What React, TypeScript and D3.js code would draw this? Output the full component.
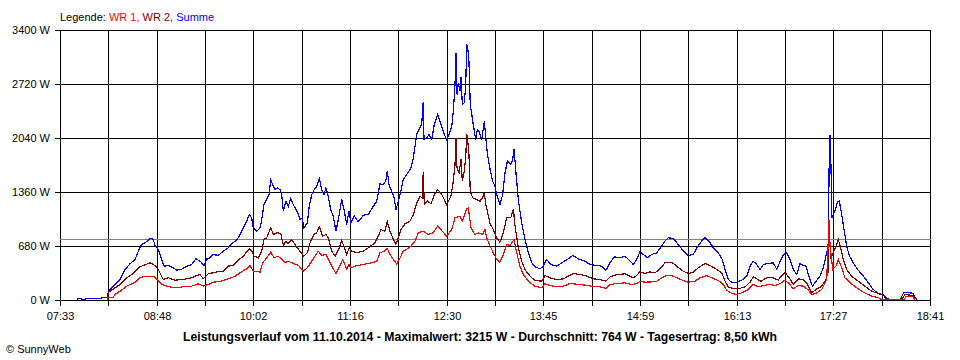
import React from "react";
import * as d3 from "d3";

// time in minutes after 07:33, value in W
const xTickLabels = ["07:33", "08:48", "10:02", "11:16", "12:30", "13:45", "14:59", "16:13", "17:27", "18:41"];
const totalMinutes = 668;
const yTicks = [0, 680, 1360, 2040, 2720, 3400];
const yMax = 3400;
const average = 764;

const legendItems = [
  { text: "WR 1,", color: "#ff0000" },
  { text: " WR 2,", color: "#800000" },
  { text: " Summe", color: "#0000ff" },
];

const titleText =
  "Leistungsverlauf vom 11.10.2014 - Maximalwert: 3215 W - Durchschnitt: 764 W - Tagesertrag: 8,50 kWh";
const copyrightText = "© SunnyWeb";

const summe: [number, number][] = [
  [13.1,0],[13.8,10],[16.1,10],[17,0],[21.5,12],[30.7,12],[33.0,28],[36.1,30],[37.1,84],[38.4,126],[42.2,189],[46.1,252],[49.9,378],[53.7,449],[57.6,504],[60.1,608],[62.7,693],[66.0,722],[67.8,747],[69.6,772],[71.6,760],[72.9,680],[75.5,630],[78.1,504],[79.9,420],[83.2,428],[87.0,399],[89.6,369],[93.4,380],[97.3,420],[101.1,440],[104.4,512],[107.5,483],[110.6,432],[112.6,510],[113.9,512],[117.7,567],[121.5,555],[125.4,608],[129.2,651],[131.8,705],[135.7,747],[138.2,819],[140.7,902],[143.4,986],[145.3,1070],[147.2,1028],[148.4,902],[151.0,860],[153.6,902],[154.9,1007],[156.6,1196],[158.7,1259],[160.5,1322],[161.8,1502],[163.3,1448],[165.1,1385],[166.8,1405],[168.9,1385],[170.2,1322],[171.5,1112],[173.5,1238],[175.3,1175],[177.1,1268],[179.1,1196],[181.2,1133],[183.0,1070],[184.3,1007],[186.0,1028],[187.3,902],[189.9,965],[191.4,1175],[193.3,1322],[195.0,1376],[197.1,1427],[199.1,1520],[200.9,1385],[202.7,1322],[204.2,1405],[206.0,1301],[207.8,1133],[209.8,1049],[211.9,860],[213.7,1007],[216.3,1259],[218.1,1133],[220.1,944],[221.9,1112],[223.4,965],[226.0,1049],[229.0,978],[232.9,1062],[236.7,1070],[240.6,1175],[243.2,1238],[245.7,1457],[248.2,1448],[250.1,1490],[251.3,1616],[252.8,1427],[254.7,1364],[256.5,1280],[258.0,1133],[259.8,1238],[261.1,1322],[263.6,1511],[266.2,1574],[269.5,1658],[271.3,1784],[273.9,2078],[275.6,2141],[277.7,2204],[278.9,2489],[279.5,2015],[281.6,2036],[283.3,2078],[285.4,2015],[287.4,2204],[290.0,2330],[292.5,2204],[295.1,2078],[296.9,2015],[298.7,2078],[300.8,2183],[302.0,2371],[303.3,2708],[304.1,3106],[304.8,2582],[305.8,2729],[307.1,2624],[307.9,2799],[308.9,2456],[310.4,2477],[311.5,2687],[312.3,3215],[313.0,3180],[314.0,3001],[315.0,2456],[317.3,2204],[319.2,2015],[320.4,2141],[321.7,2120],[323.8,2015],[325.8,2245],[326.9,2036],[328.4,1805],[330.2,1640],[332.2,1490],[334.0,1427],[335.3,1322],[337.8,1196],[339.9,1322],[341.7,1595],[343.5,1742],[346.1,1700],[347.6,1763],[348.6,1898],[350.1,1595],[351.9,1259],[354.5,965],[357.0,756],[359.6,588],[362.2,462],[364.7,412],[368.6,386],[371.1,420],[373.7,504],[376.8,441],[381.4,420],[385.2,462],[390.3,512],[393.7,554],[398.0,512],[403.1,483],[406.9,441],[412.1,428],[415.9,420],[419.2,369],[422.3,462],[425.4,537],[430.0,525],[433.8,546],[437.7,483],[440.2,441],[442.8,504],[445.3,600],[447.9,567],[451.2,525],[454.3,567],[458.2,588],[462.0,672],[464.5,735],[467.1,777],[470.9,770],[474.7,693],[478.6,608],[482.4,554],[486.3,567],[488.9,651],[492.7,735],[495.2,777],[498.3,735],[501.6,651],[505.5,588],[508.5,504],[510.6,378],[513.1,252],[515.7,218],[518.3,210],[521.3,231],[524.6,252],[527.3,294],[529.8,420],[532.3,483],[534.9,441],[537.5,378],[540.0,441],[543.8,453],[547.7,462],[550.3,378],[552.8,475],[555.4,567],[557.9,588],[560.5,504],[563.0,378],[565.7,315],[568.2,453],[570.7,428],[572.8,420],[575.3,273],[577.7,168],[580.5,231],[583.5,294],[586.1,399],[588.1,546],[589.9,672],[590.8,2065],[591.5,2065],[591.7,1900],[592.7,1028],[594.3,1091],[595.8,1154],[596.8,1225],[598.4,1238],[600.2,1070],[602.0,881],[604.0,672],[606.0,554],[609.1,462],[612.9,369],[616.8,294],[620.6,210],[624.4,126],[628.3,76],[632.1,63],[634.2,9],[637.3,0],[645.5,0],[647.0,63],[648.1,92],[654.7,80],[656.5,30],[657.8,0],
];

const wr2: [number, number][] = [
  [36.1,0],[37.1,84],[38.4,105],[42.2,147],[46.1,189],[51.2,273],[56.3,327],[61.4,412],[66.0,441],[69.1,462],[72.9,428],[75.5,378],[79.3,252],[83.2,273],[88.3,243],[94.7,252],[101.1,273],[105.0,302],[107.5,315],[110.0,260],[113.9,327],[117.7,336],[121.5,350],[125.4,357],[129.2,420],[133.1,430],[136.9,495],[140.7,546],[145.3,638],[147.2,610],[149.0,546],[152.3,525],[154.9,609],[156.6,756],[158.7,777],[161.8,902],[163.8,819],[166.8,840],[169.5,830],[171.5,680],[173.5,735],[175.3,705],[177.9,756],[180.4,693],[184.3,608],[187.3,546],[189.9,588],[192.0,714],[195.0,819],[197.1,840],[199.1,915],[201.7,798],[204.2,819],[206.0,777],[208.6,608],[211.2,546],[214.5,651],[216.3,747],[220.1,567],[222.1,650],[224.0,609],[227.8,588],[232.9,609],[236.7,651],[241.9,714],[244.4,798],[246.5,881],[249.5,860],[251.3,978],[253.4,860],[255.5,777],[257.8,693],[259.8,777],[261.8,881],[264.9,953],[268.7,986],[271.3,1070],[273.9,1217],[276.4,1301],[278.2,1280],[278.9,1607],[279.7,1196],[282.3,1238],[284.9,1205],[287.4,1322],[290.0,1385],[293.1,1322],[296.9,1196],[300.2,1301],[302.0,1490],[303.3,1700],[304.1,2036],[304.8,1658],[306.4,1595],[307.9,1763],[308.9,1490],[310.4,1616],[311.5,1784],[312.3,2078],[313.0,2015],[314.0,1826],[315.0,1364],[316.9,1280],[319.9,1259],[322.5,1238],[324.3,1280],[325.8,1343],[326.9,1196],[328.4,1091],[330.2,957],[332.7,881],[335.3,777],[337.8,722],[340.4,840],[343.0,1028],[346.1,1028],[348.1,1142],[349.4,924],[351.9,651],[354.5,483],[357.0,378],[360.9,294],[364.7,239],[369.9,231],[372.4,302],[376.2,273],[381.4,252],[386.5,260],[390.3,294],[394.1,327],[399.3,315],[404.4,294],[409.5,260],[414.6,252],[419.2,231],[422.3,285],[427.4,315],[433.8,323],[437.7,294],[440.2,273],[442.8,302],[445.3,350],[449.2,327],[453.0,348],[456.9,336],[460.7,386],[464.5,462],[469.7,470],[473.5,420],[478.6,357],[482.4,327],[486.3,344],[490.1,399],[495.2,453],[499.1,428],[504.2,378],[508.1,336],[510.6,231],[513.1,160],[517.0,134],[520.8,134],[526.0,160],[529.8,218],[532.3,285],[535.7,252],[538.2,231],[542.6,273],[547.7,273],[551.5,243],[553.5,290],[556.7,340],[560.5,260],[563.0,189],[566.9,260],[570.7,252],[573.3,210],[577.2,84],[581.1,134],[584.9,168],[588.1,252],[589.9,357],[590.5,819],[591.2,700],[591.7,525],[593.8,588],[595.8,672],[597.6,756],[599.4,651],[601.4,504],[604.0,378],[607.9,294],[612.9,231],[618.1,168],[623.2,105],[628.3,76],[632.1,50],[636.0,8],[637.3,0],[646.5,0],[648.8,63],[654.7,50],[656.5,0],
];

const wr1: [number, number][] = [
  [36.1,0],[37.1,29],[40.9,29],[42.2,63],[46.1,105],[51.2,168],[57.6,218],[61.4,273],[66.0,294],[71.6,294],[74.2,260],[78.1,189],[81.9,168],[88.3,147],[94.7,160],[101.1,168],[106.2,198],[110.0,168],[115.2,198],[117.7,218],[122.9,226],[129.2,260],[134.4,294],[138.2,336],[143.4,386],[145.9,428],[148.4,357],[153.6,346],[155.6,462],[158.7,525],[161.8,596],[164.3,525],[167.6,546],[170.2,504],[172.8,462],[175.3,483],[179.1,453],[183.0,432],[186.8,357],[189.9,399],[193.3,483],[195.8,546],[198.3,608],[200.9,554],[204.2,567],[208.6,420],[211.9,327],[215.0,428],[217.1,504],[220.1,386],[221.9,441],[223.4,399],[226.5,420],[232.9,441],[239.3,462],[243.2,483],[245.7,588],[249.0,609],[251.3,642],[253.4,567],[255.9,504],[258.5,449],[261.1,525],[263.6,608],[268.7,659],[272.6,735],[275.1,840],[278.9,861],[282.8,819],[286.6,840],[290.0,924],[293.5,861],[296.9,798],[300.8,882],[303.3,1028],[307.1,1049],[308.9,986],[312.3,1142],[313.5,1154],[315.6,902],[318.6,819],[321.2,840],[324.3,819],[326.3,882],[327.6,777],[330.2,672],[332.7,588],[335.3,504],[337.8,470],[340.4,567],[343.0,693],[345.5,680],[348.6,756],[350.7,588],[353.2,420],[355.7,315],[359.6,231],[364.7,168],[369.9,147],[372.4,198],[376.2,176],[381.4,160],[386.5,168],[391.6,201],[396.7,193],[403.1,181],[408.2,168],[414.6,160],[419.2,139],[422.3,189],[427.4,201],[433.8,210],[439.0,189],[442.8,201],[445.3,230],[449.2,218],[454.3,222],[458.2,231],[462.0,273],[465.8,302],[469.7,302],[473.5,273],[478.6,239],[482.4,218],[487.6,231],[491.4,273],[496.5,302],[500.4,273],[505.5,239],[509.3,189],[511.9,117],[515.7,76],[519.6,63],[524.6,92],[528.5,126],[532.3,189],[535.7,160],[540.0,176],[545.2,189],[549.0,176],[552.8,200],[556.7,243],[560.5,189],[563.0,134],[566.9,176],[570.7,168],[574.6,118],[577.2,63],[581.1,84],[584.9,126],[588.7,252],[590.5,1000],[591.2,700],[593.3,378],[595.8,420],[597.6,504],[600.2,399],[602.7,273],[606.6,210],[611.7,147],[616.8,92],[623.2,42],[628.3,25],[630.9,0],[648.1,0],[649.6,42],[654.7,35],[656.5,0],
];

const series = [
  { name: "Summe", data: summe, color: "#0000ff" },
  { name: "WR 2", data: wr2, color: "#800000" },
  { name: "WR 1", data: wr1, color: "#ff0000" },
];

const W = 960;
const H = 360;
const plot = { left: 60, right: 930, top: 30, bottom: 300 };
const FONT = "'Liberation Sans', Arial, sans-serif";

export default function App() {
  const x = d3.scaleLinear().domain([0, totalMinutes]).range([plot.left, plot.right]);
  const y = d3.scaleLinear().domain([0, yMax]).range([plot.bottom, plot.top]);
  const tickCount = (xTickLabels.length - 1) * 2;
  const xTicks = d3.range(tickCount + 1).map((i) => (i * totalMinutes) / tickCount);
  const px = (v: number) => Math.round(v) + 0.5;
  const line = d3
    .line<[number, number]>()
    .x((d) => x(d[0]))
    .y((d) => y(d[1]) - 0.5);

  return (
    <div style={{ width: W, height: H, background: "#fff" }}>
      <style>{`body{margin:0;background:#fff}`}</style>
      <svg width={W} height={H} style={{ display: "block", fontFamily: FONT }}>
        <rect x={0} y={0} width={W} height={H} fill="#fff" />
        <text x={60} y={21} fontSize={11} fill="#000">
          Legende:{" "}
          {legendItems.map((l, i) => (
            <tspan key={i} fill={l.color}>
              {l.text}
            </tspan>
          ))}
        </text>
        {/* grid */}
        <g shapeRendering="crispEdges" stroke="#000" strokeWidth={1}>
          {xTicks.map((t, i) => (
            <line key={"v" + i} x1={px(x(t))} x2={px(x(t))} y1={px(y(yMax))} y2={px(y(0)) + 5} />
          ))}
          {yTicks.map((v, i) => (
            <line key={"h" + i} x1={plot.left - 5} x2={px(x(totalMinutes))} y1={px(y(v))} y2={px(y(v))} />
          ))}
        </g>
        <line
          x1={plot.left}
          x2={px(x(totalMinutes))}
          y1={Math.round(y(average)) + 0.5}
          y2={Math.round(y(average)) + 0.5}
          stroke="#808080"
          strokeWidth={1}
          shapeRendering="crispEdges"
        />
        {series.map((s) => (
          <path
            key={s.name}
            d={line(s.data) || ""}
            fill="none"
            stroke={s.color}
            strokeWidth={1.2}
            shapeRendering="crispEdges"
          />
        ))}
        <line
          x1={plot.left - 5}
          x2={px(x(totalMinutes))}
          y1={px(y(0))}
          y2={px(y(0))}
          stroke="#000"
          shapeRendering="crispEdges"
        />
        {yTicks.map((v, i) => (
          <text key={"yl" + i} x={50} y={y(v) + 4} fontSize={11} textAnchor="end" fill="#000">
            {`${v} W`}
          </text>
        ))}
        {xTicks
          .filter((_, i) => i % 2 === 0)
          .map((t, i) => (
            <text key={"xl" + i} x={px(x(t))} y={320} fontSize={11} textAnchor="middle" fill="#000">
              {xTickLabels[i]}
            </text>
          ))}
        <text x={480} y={341} fontSize={12} fontWeight="bold" textAnchor="middle" fill="#000" textLength={594} lengthAdjust="spacingAndGlyphs">
          {titleText}
        </text>
        <text x={6} y={353} fontSize={11} fill="#000">
          {copyrightText}
        </text>
      </svg>
    </div>
  );
}
